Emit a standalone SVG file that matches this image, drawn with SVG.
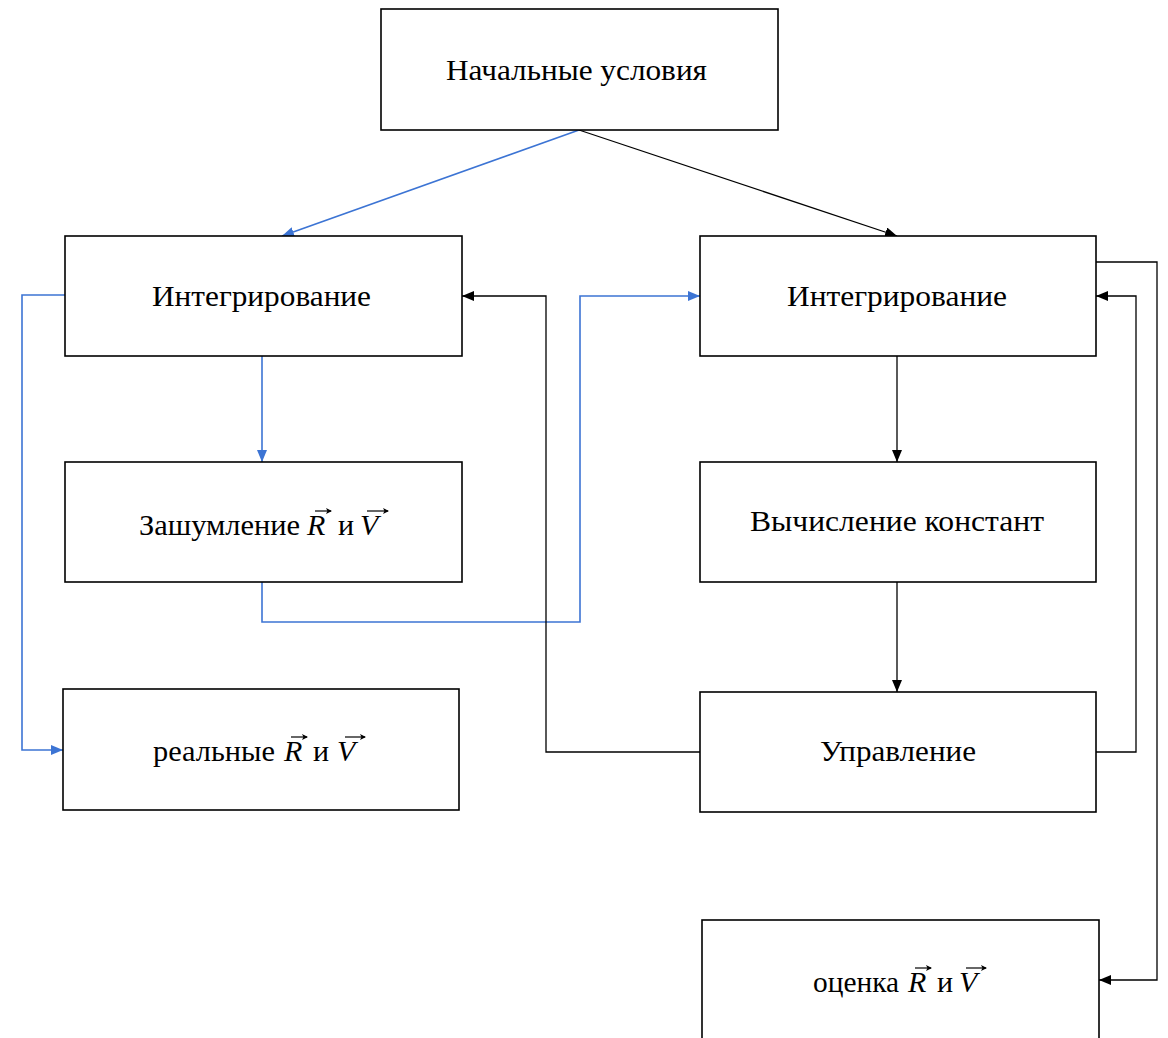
<svg xmlns="http://www.w3.org/2000/svg" width="1168" height="1038" viewBox="0 0 1168 1038">
<style>
.box{fill:#fff;stroke:#000;stroke-width:1.6}
.t{font-family:"Liberation Serif","Times New Roman",serif;font-size:30px;fill:#000}
.v{font-style:italic}
.k{fill:none;stroke:#000;stroke-width:1.3}
.b{fill:none;stroke:#3c74d4;stroke-width:1.6}
.vec{fill:none;stroke:#000;stroke-width:1.2}
</style>
<defs>
<marker id="ak" markerWidth="12" markerHeight="10" refX="12" refY="5" orient="auto" markerUnits="userSpaceOnUse"><path d="M0,0 L12,5 L0,10 Z" fill="#000"/></marker>
<marker id="ab" markerWidth="12" markerHeight="10" refX="12" refY="5" orient="auto" markerUnits="userSpaceOnUse"><path d="M0,0 L12,5 L0,10 Z" fill="#3c74d4"/></marker>
<marker id="av" markerWidth="6" markerHeight="6" refX="5" refY="3" orient="auto" markerUnits="userSpaceOnUse"><path d="M0,0 L6,3 L0,6 L1.5,3 Z" fill="#000"/></marker>
</defs>
<rect width="1168" height="1038" fill="#fff"/>
<g id="connectors">
<path class="b" d="M579,130 L282,236" marker-end="url(#ab)"/>
<path class="k" d="M579,130 L897,236" marker-end="url(#ak)"/>
<path class="b" d="M65,295 H22 V750 H63" marker-end="url(#ab)"/>
<path class="b" d="M262,356 V462" marker-end="url(#ab)"/>
<path class="b" d="M262,582 V622 H580 V296 H700" marker-end="url(#ab)"/>
<path class="k" d="M700,752 H546 V296 H462" marker-end="url(#ak)"/>
<path class="k" d="M897,356 V462" marker-end="url(#ak)"/>
<path class="k" d="M897,582 V692" marker-end="url(#ak)"/>
<path class="k" d="M1096,752 H1136 V296 H1096" marker-end="url(#ak)"/>
<path class="k" d="M1096,262 H1157 V980 H1099" marker-end="url(#ak)"/>
</g>
<g id="n-start"><rect class="box" x="381" y="9" width="397" height="121"/><text class="t" x="446" y="80" textLength="261" lengthAdjust="spacingAndGlyphs">Начальные условия</text></g>
<g id="n-int1"><rect class="box" x="65" y="236" width="397" height="120"/><text class="t" x="152" y="306" textLength="219" lengthAdjust="spacingAndGlyphs">Интегрирование</text></g>
<g id="n-int2"><rect class="box" x="700" y="236" width="396" height="120"/><text class="t" x="787" y="306" textLength="220" lengthAdjust="spacingAndGlyphs">Интегрирование</text></g>
<g id="n-noise"><rect class="box" x="65" y="462" width="397" height="120"/>
<text class="t" x="139" y="535" textLength="161" lengthAdjust="spacingAndGlyphs">Зашумление</text>
<text class="t v" x="307" y="535">R</text><text class="t" x="338" y="535">и</text><text class="t v" x="360" y="535">V</text>
<path class="vec" d="M315,511 H331" marker-end="url(#av)"/><path class="vec" d="M367,511 H388" marker-end="url(#av)"/></g>
<g id="n-const"><rect class="box" x="700" y="462" width="396" height="120"/><text class="t" x="750" y="531" textLength="294" lengthAdjust="spacingAndGlyphs">Вычисление констант</text></g>
<g id="n-real"><rect class="box" x="63" y="689" width="396" height="121"/>
<text class="t" x="153" y="761" textLength="122" lengthAdjust="spacingAndGlyphs">реальные</text>
<text class="t v" x="284" y="761">R</text><text class="t" x="313" y="761">и</text><text class="t v" x="337" y="761">V</text>
<path class="vec" d="M291,737 H307" marker-end="url(#av)"/><path class="vec" d="M345,737 H365" marker-end="url(#av)"/></g>
<g id="n-ctrl"><rect class="box" x="700" y="692" width="396" height="120"/><text class="t" x="820" y="761" textLength="156" lengthAdjust="spacingAndGlyphs">Управление</text></g>
<g id="n-est"><rect class="box" x="702" y="920" width="397" height="130"/>
<text class="t" x="813" y="992" textLength="86" lengthAdjust="spacingAndGlyphs">оценка</text>
<text class="t v" x="908" y="992">R</text><text class="t" x="937" y="992">и</text><text class="t v" x="959" y="992">V</text>
<path class="vec" d="M915,968 H931" marker-end="url(#av)"/><path class="vec" d="M966,968 H986" marker-end="url(#av)"/></g>
</svg>
